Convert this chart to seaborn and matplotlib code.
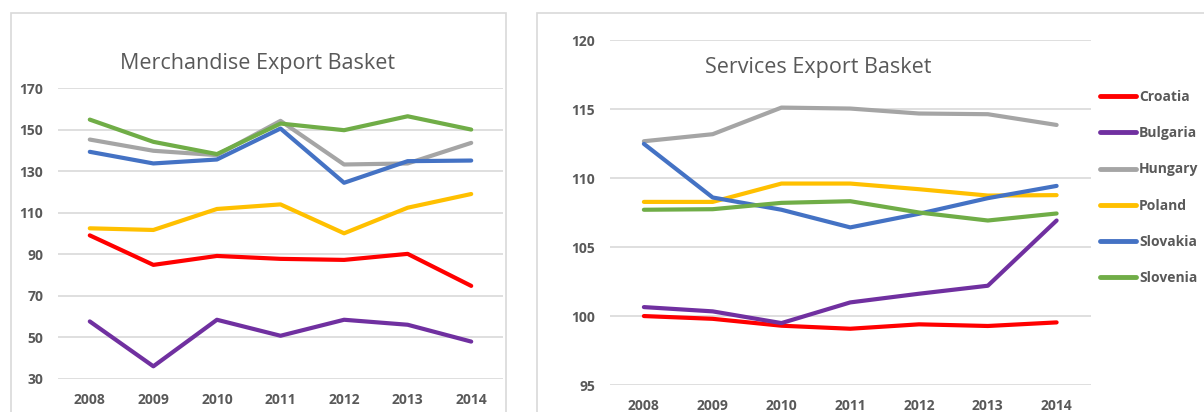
import matplotlib
matplotlib.use("Agg")
import matplotlib.pyplot as plt
from matplotlib.patches import Rectangle
import pandas as pd
import seaborn as sns

years = [2008, 2009, 2010, 2011, 2012, 2013, 2014]
countries = ["Croatia", "Bulgaria", "Hungary", "Poland", "Slovakia", "Slovenia"]
colors = ["#FF0000", "#7030A0", "#A5A5A5", "#FFC000", "#4472C4", "#70AD47"]

merch_croatia = [99.1, 84.9, 89.2, 87.8, 87.3, 90.2, 74.8]
merch_bulgaria = [57.7, 36.1, 58.5, 50.8, 58.5, 56.1, 48.0]
merch_hungary = [145.2, 139.8, 137.7, 154.2, 133.2, 133.7, 143.6]
merch_poland = [102.5, 101.7, 111.8, 114.0, 100.1, 112.4, 119.0]
merch_slovakia = [139.3, 133.7, 135.6, 150.5, 124.4, 134.8, 135.1]
merch_slovenia = [154.8, 144.1, 138.2, 152.9, 149.7, 156.4, 150.0]

serv_croatia = [100.0, 99.8, 99.3, 99.08, 99.4, 99.28, 99.54]
serv_bulgaria = [100.65, 100.34, 99.49, 100.99, 101.62, 102.2, 106.93]
serv_hungary = [112.68, 113.19, 115.12, 115.05, 114.69, 114.64, 113.86]
serv_poland = [108.28, 108.28, 109.61, 109.61, 109.2, 108.74, 108.77]
serv_slovakia = [112.49, 108.6, 107.71, 106.43, 107.42, 108.55, 109.44]
serv_slovenia = [107.71, 107.75, 108.21, 108.33, 107.51, 106.93, 107.44]

merch_ticks = [30, 50, 70, 90, 110, 130, 150, 170]
serv_ticks = [95, 100, 105, 110, 115, 120]


def long_frame(series):
    rows = []
    for country, values in zip(countries, series):
        for year, v in zip(years, values):
            rows.append({"year": year, "country": country, "value": v})
    return pd.DataFrame(rows)


merch = long_frame([merch_croatia, merch_bulgaria, merch_hungary,
                    merch_poland, merch_slovakia, merch_slovenia])
serv = long_frame([serv_croatia, serv_bulgaria, serv_hungary,
                   serv_poland, serv_slovakia, serv_slovenia])

sns.set_theme(style="white")
plt.rcParams["font.family"] = ["Open Sans", "DejaVu Sans"]

W, H = 1204, 412
fig = plt.figure(figsize=(W / 100, H / 100), dpi=100)
fig.patch.set_facecolor("white")

# chart-area frames
for x0, x1 in [(11, 506), (537, 1215)]:
    fig.add_artist(Rectangle((x0 / W, -0.05), (x1 - x0) / W, 1 - 13 / H + 0.05,
                             transform=fig.transFigure, fill=False,
                             edgecolor="#D9D9D9", linewidth=1.2))

palette = dict(zip(countries, colors))
label_color = "#595959"


def style_axis(ax, ticks, ylo, yhi):
    ax.set_xlim(2007.5, 2014.5)
    ax.set_ylim(ylo, yhi)
    ax.set_yticks(ticks)
    ax.set_xticks(years)
    ax.set_xticklabels([str(y) for y in years])
    ax.grid(axis="y", color="#D9D9D9", linewidth=1.2)
    ax.grid(axis="x", visible=False)
    ax.set_axisbelow(True)
    for s in ax.spines.values():
        s.set_visible(False)
    ax.set_xlabel("")
    ax.set_ylabel("")
    ax.set_facecolor("none")
    ax.tick_params(axis="both", length=0, labelsize=10, labelcolor=label_color)
    ax.tick_params(axis="y", pad=10.5)
    ax.tick_params(axis="x", pad=10)
    for t in ax.get_xticklabels() + ax.get_yticklabels():
        t.set_fontweight("bold")


# Merchandise panel
ax1 = fig.add_axes([58 / W, 1 - 379 / H, (503 - 58) / W, (379 - 88) / H])
sns.lineplot(data=merch, x="year", y="value", hue="country", hue_order=countries,
             palette=palette, linewidth=3, legend=False, ax=ax1)
style_axis(ax1, merch_ticks, 30, 170)
fig.text(258 / W, 1 - 64 / H, "Merchandise Export Basket", ha="center", va="center",
         fontsize=15.5, color=label_color)

# Services panel
ax2 = fig.add_axes([609.5 / W, 1 - 385 / H, (1091 - 609.5) / W, (385 - 40.3) / H])
sns.lineplot(data=serv, x="year", y="value", hue="country", hue_order=countries,
             palette=palette, linewidth=3, legend=True, ax=ax2)
style_axis(ax2, serv_ticks, 95, 120)
fig.text(818 / W, 1 - 67 / H, "Services Export Basket", ha="center", va="center",
         fontsize=15.5, color=label_color)

handles, labels = ax2.get_legend_handles_labels()
for h in handles:
    h.set_linewidth(3.5)
leg = ax2.legend(handles, labels, loc="upper left",
                 bbox_to_anchor=(1100 / W, 1 - 90 / H), bbox_transform=fig.transFigure,
                 frameon=False, borderpad=0, borderaxespad=0,
                 handlelength=2.6, handletextpad=0.2, labelspacing=1.6,
                 prop={"size": 10, "weight": "bold"})
for t in leg.get_texts():
    t.set_color(label_color)

fig.savefig("out.png", dpi=100, facecolor="white")
